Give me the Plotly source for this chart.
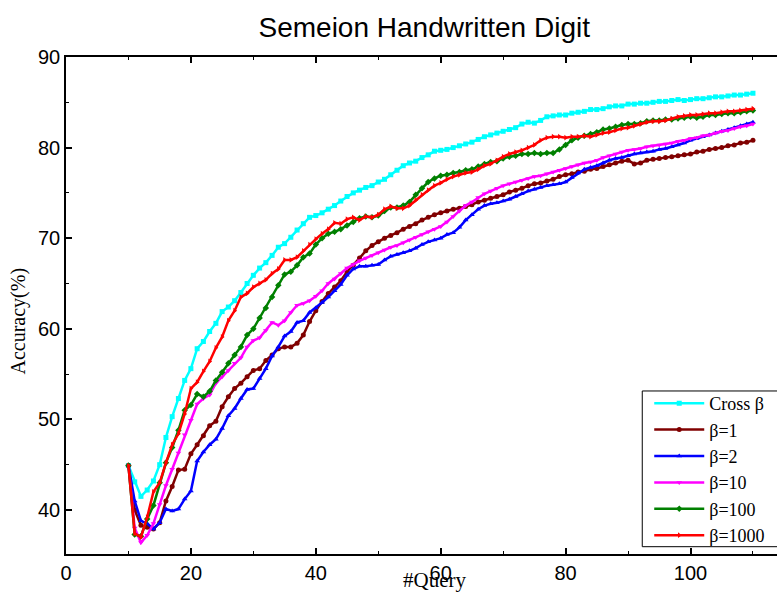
import plotly.graph_objects as go

queries = list(range(10, 111))

cross_beta = [44.9, 43.1, 41.5, 42.2, 43.2, 45.0, 48.0, 50.3, 52.3, 54.3,
              55.6, 57.8, 58.6, 59.7, 60.6, 61.9, 62.4, 63.1, 64.0, 65.0,
              65.9, 66.7, 67.3, 68.1, 69.0, 69.4, 70.1, 70.9, 71.6, 72.3,
              72.5, 72.8, 73.2, 73.6, 74.1, 74.6, 75.0, 75.3, 75.6, 75.8,
              76.2, 76.5, 77.0, 77.5, 78.0, 78.3, 78.5, 78.9, 79.2, 79.6,
              79.7, 79.8, 80.0, 80.2, 80.4, 80.6, 80.9, 81.2, 81.4, 81.6,
              81.8, 82.0, 82.2, 82.6, 82.8, 82.7, 83.0, 83.4, 83.5, 83.6,
              83.6, 83.8, 83.9, 84.0, 84.2, 84.2, 84.3, 84.5, 84.6, 84.6,
              84.8, 84.8, 84.9, 84.9, 85.0, 85.1, 85.1, 85.2, 85.3, 85.2,
              85.3, 85.4, 85.4, 85.5, 85.6, 85.6, 85.7, 85.8, 85.8, 85.9,
              86.0]

beta_1 = [44.9, 40.0, 38.3, 38.1, 37.9, 38.6, 41.0, 42.6, 44.4, 44.5,
          46.2, 47.2, 48.2, 49.3, 49.8, 51.4, 52.5, 53.4, 54.0, 54.7,
          55.4, 55.6, 56.5, 57.1, 57.8, 58.0, 58.0, 58.4, 59.3, 60.8,
          62.0, 63.0, 63.9, 64.6, 65.3, 66.3, 67.0, 67.8, 68.6, 69.2,
          69.6, 70.0, 70.3, 70.6, 71.0, 71.3, 71.6, 72.0, 72.3, 72.6,
          72.8, 73.0, 73.2, 73.3, 73.5, 73.7, 74.0, 74.2, 74.4, 74.6,
          74.8, 75.1, 75.3, 75.5, 75.8, 76.0, 76.1, 76.3, 76.5, 76.8,
          77.0, 77.1, 77.3, 77.4, 77.6, 77.7, 77.9, 78.1, 78.3, 78.5,
          78.6, 78.2, 78.3, 78.6, 78.7, 78.8, 78.9, 79.0, 79.1, 79.2,
          79.3, 79.5, 79.6, 79.8, 79.9, 80.0, 80.2, 80.3, 80.5, 80.6,
          80.8]

beta_2 = [44.9, 41.0, 38.8, 38.5, 37.9, 38.6, 40.1, 39.9, 40.1, 41.2,
          42.1, 45.4, 46.4, 47.2, 47.8, 49.0, 50.4, 51.2, 52.3, 53.3,
          53.4, 54.5, 55.6, 57.0, 58.0, 59.2, 59.7, 60.7, 60.9, 61.8,
          62.3, 62.9, 63.5, 64.2, 64.9, 65.9, 66.6, 66.9, 66.9, 67.0,
          67.1, 67.6, 68.0, 68.2, 68.4, 68.6, 68.9, 69.3, 69.6, 69.8,
          70.0, 70.4, 70.6, 71.2, 72.0, 72.6, 73.2, 73.6, 73.8, 73.9,
          74.1, 74.3, 74.6, 74.9, 75.2, 75.4, 75.6, 75.8, 75.9, 76.0,
          76.2, 76.7, 77.2, 77.6, 77.8, 78.0, 78.3, 78.6, 78.8, 78.9,
          79.1, 79.3, 79.4, 79.5, 79.6, 79.8, 79.9, 80.1, 80.3, 80.5,
          80.8, 81.0, 81.2, 81.4, 81.6, 81.8, 82.0, 82.2, 82.4, 82.6,
          82.8]

beta_10 = [44.9, 38.0, 36.4, 37.2, 38.5, 40.6, 42.7, 44.5, 46.3, 48.3,
           49.9, 51.7, 52.3, 52.7, 54.0, 54.7, 55.4, 56.2, 56.8, 58.0,
           58.7, 59.0, 59.8, 60.7, 60.4, 60.9, 61.8, 62.6, 62.8, 63.1,
           63.6, 64.2, 65.0, 65.5, 66.1, 66.7, 67.1, 67.5, 67.8, 68.1,
           68.4, 68.7, 69.0, 69.2, 69.5, 69.8, 70.1, 70.4, 70.7, 71.0,
           71.3, 71.8, 72.4, 73.0, 73.6, 74.0, 74.5, 74.9, 75.2, 75.5,
           75.8, 76.0, 76.2, 76.4, 76.6, 76.8, 76.9, 77.1, 77.3, 77.5,
           77.7, 77.9, 78.1, 78.3, 78.4, 78.6, 78.9, 79.1, 79.3, 79.5,
           79.7, 79.8, 79.9, 80.1, 80.2, 80.3, 80.4, 80.5, 80.7, 80.8,
           81.0, 81.1, 81.3, 81.4, 81.6, 81.8, 81.9, 82.1, 82.3, 82.4,
           82.6]

beta_100 = [44.9, 37.3, 37.1, 39.0, 40.5, 43.0, 45.2, 46.9, 48.8, 51.0,
            51.6, 52.8, 52.5, 53.1, 54.3, 55.2, 56.2, 57.1, 58.0, 59.3,
            60.0, 61.2, 62.3, 63.5, 64.8, 66.0, 66.3, 67.0, 67.9, 68.3,
            69.3, 70.0, 70.5, 70.7, 71.0, 71.4, 71.8, 72.2, 72.4, 72.3,
            72.5, 73.0, 73.4, 73.4, 73.6, 74.0, 74.8, 75.5, 76.2, 76.6,
            76.9, 77.0, 77.2, 77.3, 77.5, 77.6, 77.9, 78.2, 78.4, 78.5,
            78.8, 79.0, 79.1, 79.3, 79.3, 79.4, 79.3, 79.4, 79.4, 79.8,
            80.3, 80.8, 81.1, 81.3, 81.5, 81.7, 82.0, 82.1, 82.3, 82.5,
            82.6, 82.6, 82.7, 82.9, 83.0, 83.0, 83.1, 83.1, 83.2, 83.3,
            83.4, 83.3, 83.4, 83.6, 83.6, 83.7, 83.8, 83.8, 83.9, 84.0,
            84.1]

beta_1000 = [44.9, 37.4, 37.0, 39.2, 42.0, 43.0, 45.2, 47.2, 48.4, 50.6,
             53.4, 54.1, 55.3, 56.4, 57.9, 59.1, 60.9, 62.0, 63.5, 63.9,
             64.6, 65.0, 65.4, 66.1, 66.6, 67.6, 67.6, 67.9, 68.6, 69.3,
             69.9, 70.5, 71.0, 71.7, 71.6, 72.1, 72.3, 72.0, 72.4, 72.3,
             72.6, 73.2, 73.5, 73.3, 73.3, 73.6, 74.2, 74.8, 75.3, 75.8,
             76.1, 76.5, 76.8, 77.0, 77.2, 77.3, 77.6, 78.0, 78.2, 78.6,
             79.0, 79.3, 79.5, 79.7, 80.0, 80.3, 80.8, 81.1, 81.2, 81.2,
             81.1, 81.2, 81.2, 81.3, 81.2, 81.4, 81.6, 81.7, 81.9, 82.1,
             82.2, 82.4, 82.6, 82.8, 82.9, 82.9, 83.0, 83.2, 83.4, 83.5,
             83.6, 83.6, 83.7, 83.8, 83.8, 83.9, 84.0, 84.0, 84.1, 84.2,
             84.3]

series_names = ["Cross \u03b2", "\u03b2=1", "\u03b2=2", "\u03b2=10", "\u03b2=100", "\u03b2=1000"]
series_values = [cross_beta, beta_1, beta_2, beta_10, beta_100, beta_1000]
series_colors = ["#00FFFF", "#800000", "#0000FF", "#FF00FF", "#008000", "#FF0000"]
series_symbols = ["square", "circle", "triangle-up", "triangle-down", "diamond", "triangle-right"]

x_tickvals = [0, 20, 40, 60, 80, 100]
y_tickvals = [40, 50, 60, 70, 80, 90]

fig = go.Figure()
for name, vals, col, sym in zip(series_names, series_values, series_colors, series_symbols):
    fig.add_trace(go.Scatter(
        x=queries, y=vals, name=name, mode="lines+markers",
        line=dict(color=col, width=2.5),
        marker=dict(symbol=sym, size=5, color=col),
    ))

axis_common = dict(
    showgrid=False, zeroline=False, showline=True, linecolor="black", linewidth=1.6,
    ticks="inside", ticklen=6, tickwidth=1.6, tickcolor="black", automargin=False,
    tickfont=dict(family="Liberation Sans, Arial, sans-serif", size=20, color="black"),
)

fig.update_xaxes(
    range=[0, 113.85], tickvals=x_tickvals, mirror="ticks",
    minor=dict(ticks="inside", ticklen=3, tickwidth=1.4, dtick=10, tick0=0, tickcolor="black"),
    **axis_common,
)
fig.update_yaxes(
    range=[35.14, 90], tickvals=y_tickvals, mirror=False,
    minor=dict(ticks="inside", ticklen=3, tickwidth=1.4, dtick=5, tick0=0, tickcolor="black"),
    **axis_common,
)

fig.update_layout(
    template="none",
    width=777, height=597,
    margin=dict(l=66, r=0, t=57, b=43, autoexpand=False),
    plot_bgcolor="white", paper_bgcolor="white",
    title=dict(text="Semeion Handwritten Digit", x=0.546, xanchor="center",
               y=0.955, yanchor="middle",
               font=dict(family="Liberation Sans, Arial, sans-serif", size=28, color="black")),
    legend=dict(
        x=0.8203, y=0.0, xanchor="left", yanchor="bottom",
        bgcolor="rgba(0,0,0,0)", borderwidth=0,
        font=dict(family="Liberation Serif, Times New Roman, serif", size=18, color="black"),
        itemwidth=50, tracegroupgap=0,
    ),
    showlegend=True,
    shapes=[
        dict(type="rect", xref="paper", yref="paper", x0=0.8105, x1=1.1, y0=0.0147, y1=0.328,
             line=dict(color="black", width=1), fillcolor="white", layer="above"),
    ],
    annotations=[
        dict(text="#Query", x=0.5176, y=-0.0523, xref="paper", yref="paper",
             xanchor="center", yanchor="middle", showarrow=False,
             font=dict(family="Liberation Serif, Times New Roman, serif", size=21, color="black")),
        dict(text="Accuracy(%)", x=-0.0661, y=0.4678, xref="paper", yref="paper",
             xanchor="center", yanchor="middle", showarrow=False, textangle=-90,
             font=dict(family="Liberation Serif, Times New Roman, serif", size=20, color="black")),
    ],
)

fig.write_html("out.html", config={"displayModeBar": False},
               post_script="document.body.style.margin='0';document.body.style.padding='0';")
